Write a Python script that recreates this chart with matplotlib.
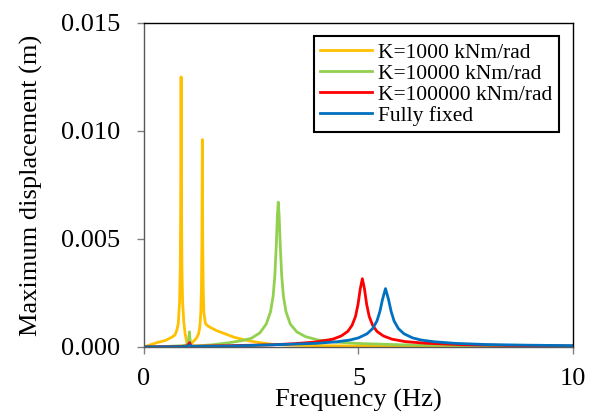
import matplotlib
matplotlib.use("Agg")
import matplotlib.pyplot as plt
from matplotlib.ticker import FormatStrFormatter

plt.rcParams['font.family'] = ['Liberation Serif', 'DejaVu Serif']

# K=1000 kNm/rad
f_k1000 = [0, 0.3, 0.5, 0.65, 0.72, 0.77, 0.80, 0.83, 0.845, 0.855, 0.865, 0.875, 0.885, 0.90,
           0.93, 0.96, 1.0, 1.04, 1.08, 1.15, 1.22, 1.27, 1.30, 1.325, 1.34, 1.35, 1.36, 1.37,
           1.38, 1.395, 1.43, 1.47, 1.55, 1.7, 1.9, 2.1, 2.4, 2.7, 3.0, 3.5, 4, 5, 7, 10]
d_k1000 = [0, 0.0002, 0.0003, 0.00045, 0.00055, 0.0008, 0.0011, 0.0021, 0.0036, 0.0064, 0.0125,
           0.0064, 0.0036, 0.0021, 0.0011, 0.0006, 0.0002, 0.00003, 0.0001, 0.00025, 0.0004,
           0.0006, 0.0009, 0.0016, 0.0028, 0.0049, 0.0096, 0.0049, 0.0028, 0.0016, 0.0011,
           0.001, 0.0009, 0.00075, 0.0006, 0.00045, 0.0003, 0.0002, 0.00012, 0.00008, 0.00006,
           0.00004, 0.00002, 0.00001]

# K=10000 kNm/rad
f_k10000 = [0, 0.5, 0.9, 1.0, 1.03, 1.05, 1.06, 1.07, 1.09, 1.12, 1.3, 1.6, 2.0, 2.3, 2.5, 2.7,
            2.85, 2.95, 3.01, 3.05, 3.085, 3.11, 3.13, 3.15, 3.175, 3.21, 3.25, 3.31, 3.41,
            3.56, 3.76, 4.06, 4.5, 5.0, 6.0, 8.0, 10]
d_k10000 = [0, 0.00002, 0.00006, 0.0001, 0.0002, 0.0005, 0.0007, 0.0004, 0.00015, 0.00005,
            0.00006, 0.0001, 0.0002, 0.0003, 0.0004, 0.00065, 0.00106, 0.00163, 0.00235,
            0.0033, 0.00475, 0.0061, 0.0067, 0.0061, 0.00475, 0.0033, 0.00235, 0.00163,
            0.00106, 0.0007, 0.00048, 0.00032, 0.00022, 0.00016, 0.0001, 0.00006, 0.00004]

# K=100000 kNm/rad
f_k100000 = [0, 0.9, 1.02, 1.06, 1.1, 2.0, 3.0, 3.5, 4.0, 4.4, 4.6, 4.75, 4.85, 4.93, 4.99,
             5.04, 5.09, 5.14, 5.19, 5.25, 5.33, 5.43, 5.58, 5.78, 6.08, 6.58, 7.5, 8.5, 10]
d_k100000 = [0, 0.00002, 0.00006, 0.0002, 0.00003, 0.00006, 0.0001, 0.00015, 0.00023, 0.00036,
             0.00051, 0.00072, 0.001, 0.00141, 0.00198, 0.00268, 0.00316, 0.00268, 0.00198,
             0.00141, 0.001, 0.00072, 0.00051, 0.00036, 0.00025, 0.00017, 0.0001, 0.00007,
             0.00004]

# Fully fixed
f_fixed = [0, 0.9, 1.02, 1.06, 1.1, 2.0, 3.0, 4.0, 4.5, 4.8, 5.0, 5.2, 5.33, 5.43, 5.50, 5.56,
           5.63, 5.70, 5.76, 5.83, 5.93, 6.06, 6.26, 6.46, 6.76, 7.26, 8.0, 9.0, 10]
d_fixed = [0, 0.00001, 0.00003, 0.0001, 0.00002, 0.00004, 0.0001, 0.000165, 0.00024, 0.00032,
           0.00042, 0.00061, 0.00085, 0.0012, 0.00165, 0.0022, 0.0027, 0.0022, 0.00165, 0.0012,
           0.00085, 0.00061, 0.00042, 0.00032, 0.00024, 0.000165, 0.00011, 0.00008, 0.00006]

fig = plt.figure(figsize=(5.95, 4.17), dpi=100)
ax = fig.add_axes([0.242, 0.168, 0.721, 0.777])

ax.plot(f_k1000, d_k1000, color='#FFC000', lw=2.0, label='K=1000 kNm/rad')
ax.plot(f_k10000, d_k10000, color='#92D050', lw=2.0, label='K=10000 kNm/rad')
ax.plot(f_k100000, d_k100000, color='#FF0000', lw=2.0, label='K=100000 kNm/rad')
ax.plot(f_fixed, d_fixed, color='#0070C0', lw=2.0, label='Fully fixed')

ax.set_xlim(0, 10)
ax.set_ylim(0, 0.015)
ax.set_xticks([0, 5, 10])
ax.set_yticks([0, 0.005, 0.010, 0.015])
ax.yaxis.set_major_formatter(FormatStrFormatter('%.3f'))
ax.tick_params(labelsize=19, direction='out', length=5, color='#808080', width=1)
ax.tick_params(axis='x', pad=10)
ax.tick_params(axis='y', pad=12)

for s in ['left', 'bottom']:
    ax.spines[s].set_color('#595959')
    ax.spines[s].set_linewidth(1.0)
for s in ['top', 'right']:
    ax.spines[s].set_color('black')
    ax.spines[s].set_linewidth(1.0)

ax.set_xlabel('Frequency (Hz)', fontsize=19)
ax.set_ylabel('Maximum displacement (m)', fontsize=19)
ax.xaxis.set_label_coords(0.5, -0.128)
ax.yaxis.set_label_coords(-0.235, 0.5)

leg = ax.legend(loc='upper right', bbox_to_anchor=(0.9395, 0.9137),
                bbox_transform=fig.transFigure, borderaxespad=0, fontsize=15.5,
                handlelength=2.4, fancybox=False, framealpha=1, edgecolor='black',
                labelspacing=0.05, borderpad=0.3, handletextpad=0.3)
leg.get_frame().set_linewidth(1.5)

fig.savefig('out.png', dpi=100)
